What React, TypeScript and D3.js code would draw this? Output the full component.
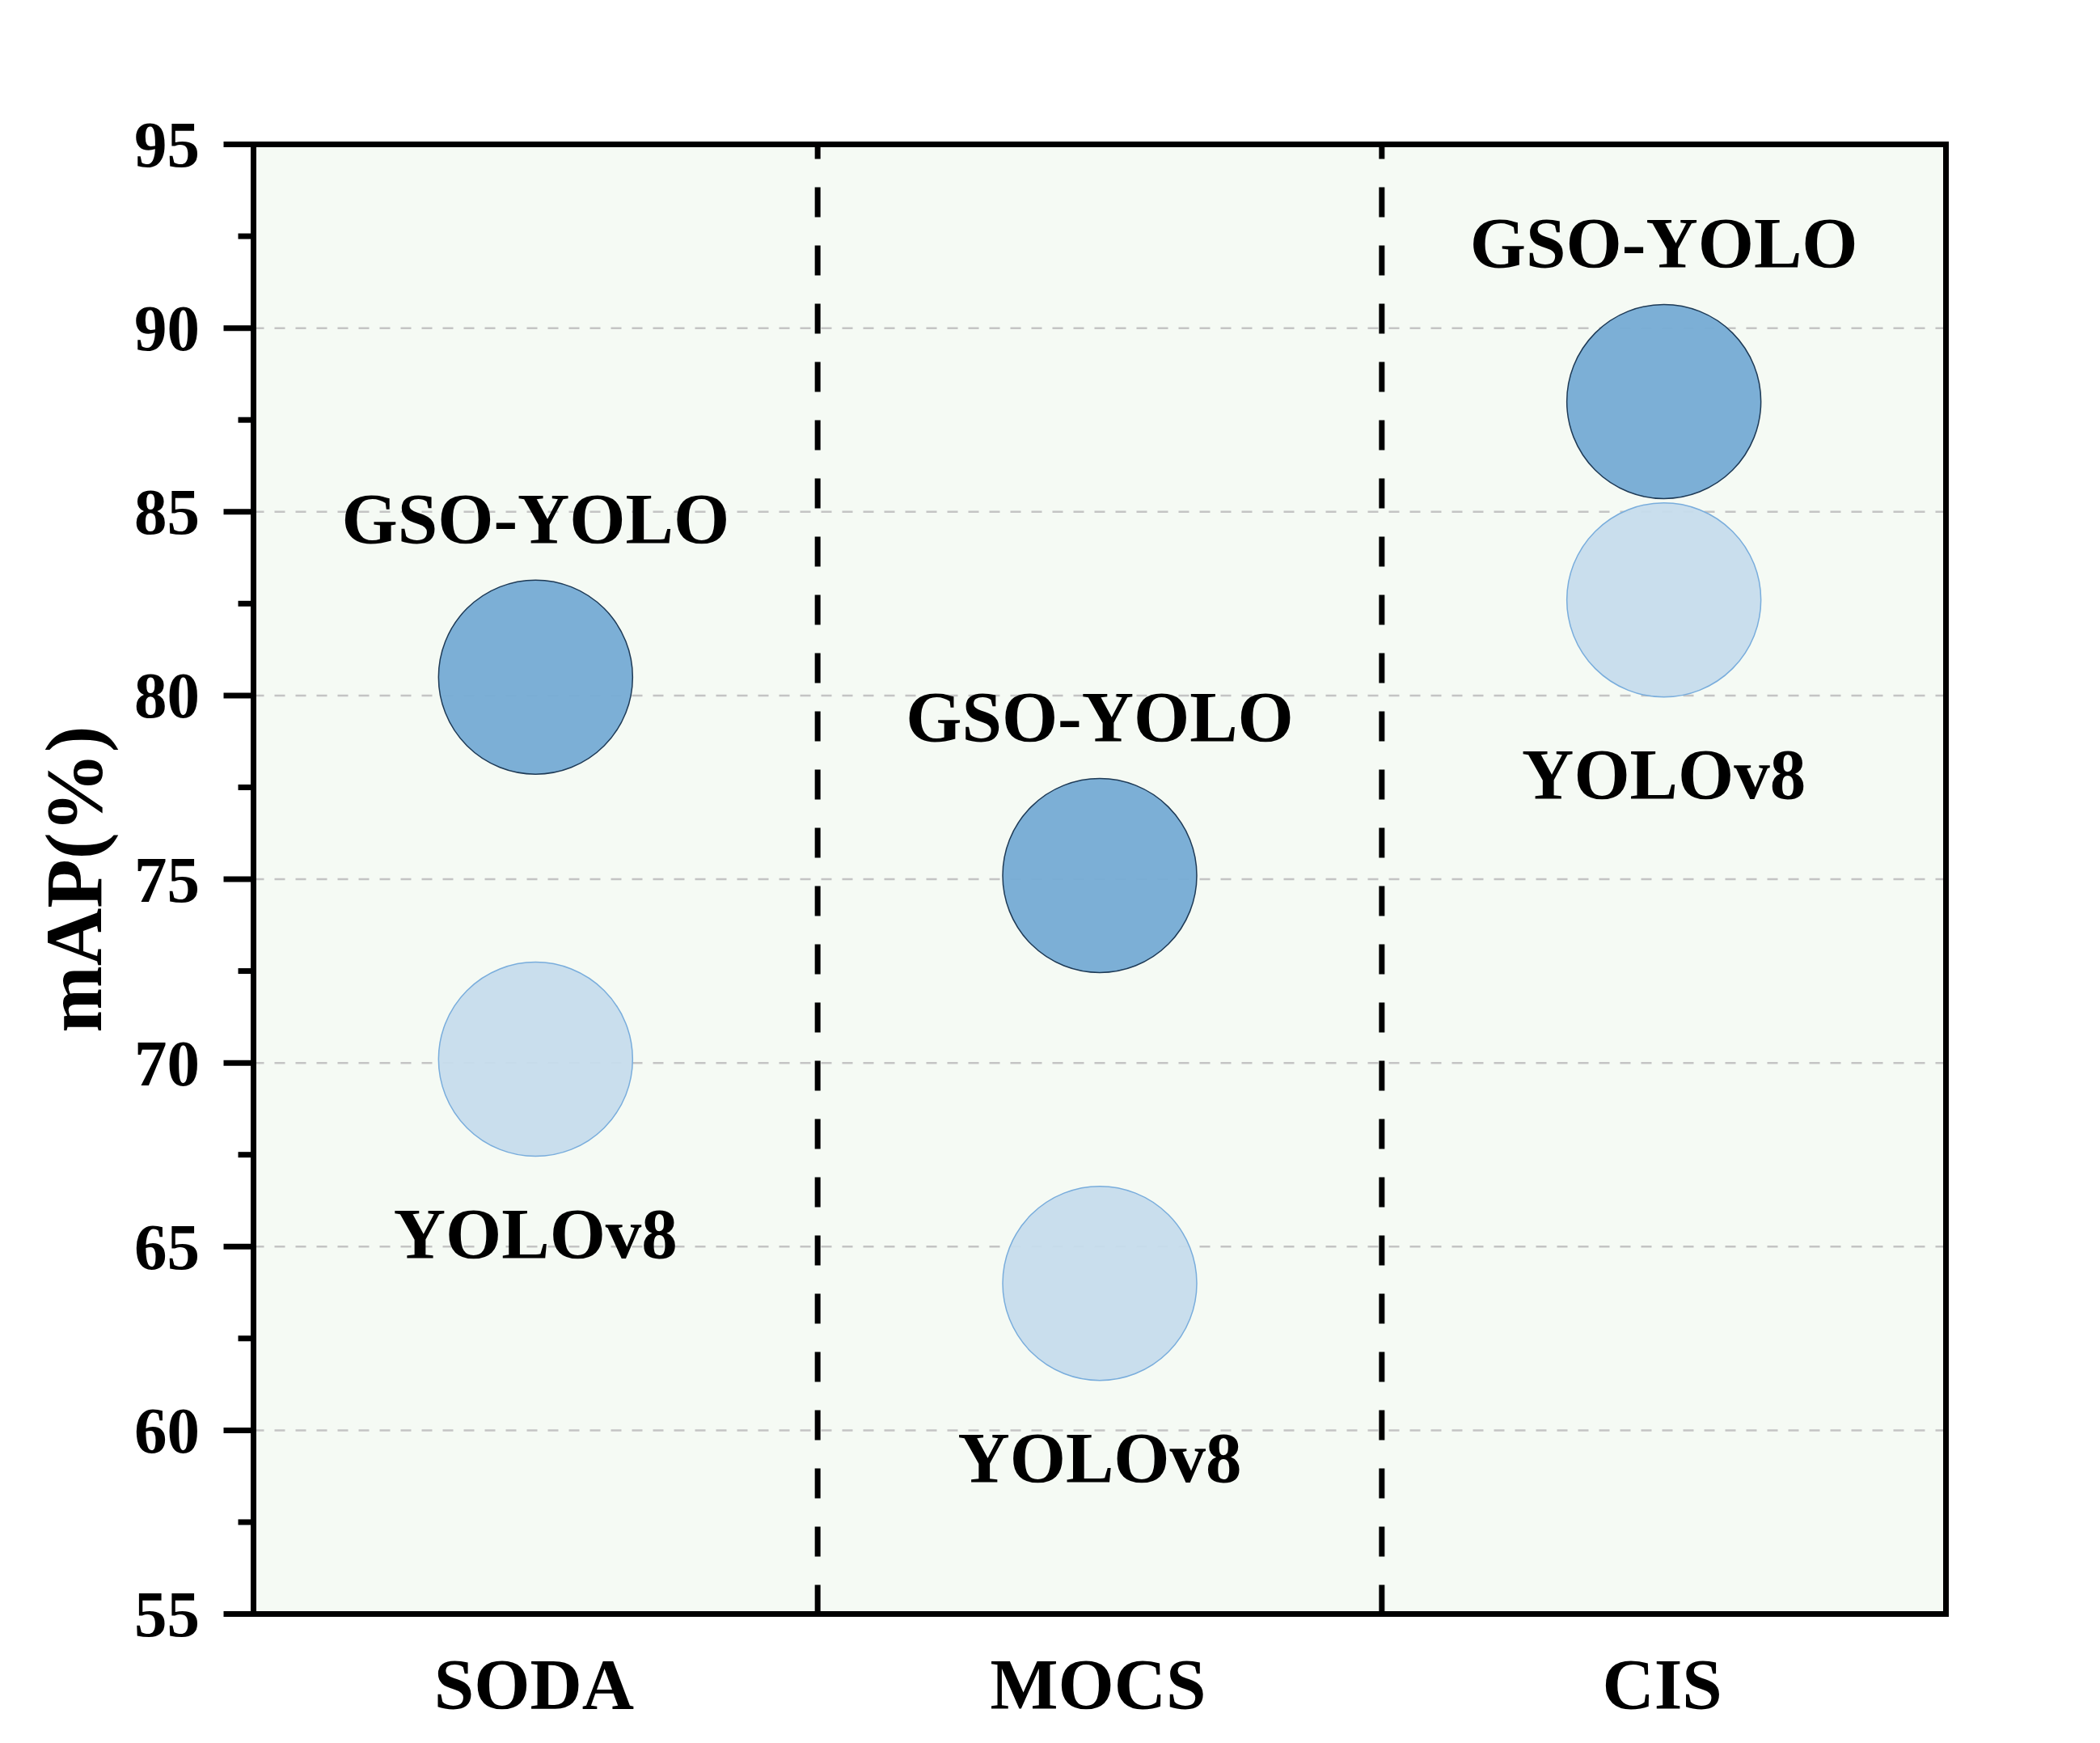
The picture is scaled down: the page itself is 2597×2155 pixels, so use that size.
import React from "react";
import * as d3 from "d3";

const categories = ["SODA", "MOCS", "CIS"];
const gsoValues = [80.5, 75.1, 88.0];
const yoloValues = [70.1, 64.0, 82.6];
const seriesNames = ["GSO-YOLO", "YOLOv8"];
const yTicks = [55, 60, 65, 70, 75, 80, 85, 90, 95];
const yMinorTicks = [57.5, 62.5, 67.5, 72.5, 77.5, 82.5, 87.5, 92.5];

const W = 2597;
const H = 2155;
const left = 313.5;
const right = 2406.5;
const top = 178.5;
const bottom = 1995.5;
const FONT = "'Liberation Serif', 'Times New Roman', serif";

export default function App() {
  const x = d3.scaleBand<string>().domain(categories).range([left, right]).padding(0);
  const y = d3.scaleLinear().domain([55, 95]).range([bottom, top]);
  const r = 120;
  const cx = (c: string) => (x(c) as number) + x.bandwidth() / 2;

  return (
    <svg width={W} height={H} style={{ position: "absolute", left: 0, top: 0 }} xmlns="http://www.w3.org/2000/svg">
      <rect x={0} y={0} width={W} height={H} fill="#ffffff" />
      <rect x={left} y={top} width={right - left} height={bottom - top} fill="#F5FAF4" />
      {/* grid */}
      {yTicks.filter((t) => t !== 55 && t !== 95).map((t) => (
        <line key={"g" + t} x1={left} x2={right} y1={y(t)} y2={y(t)} stroke="#c4c4c4" strokeWidth={2.5} strokeDasharray="13 13" />
      ))}
      {/* separators */}
      {categories.slice(1).map((c) => (
        <line key={"s" + c} x1={x(c) as number} x2={x(c) as number} y1={top} y2={bottom} stroke="#000" strokeWidth={7} strokeDasharray="37 35" strokeDashoffset={19} />
      ))}
      {/* circles */}
      {categories.map((c, i) => (
        <g key={"c" + c}>
          <circle cx={cx(c)} cy={y(yoloValues[i])} r={r} fill="#C6DCEC" fillOpacity={0.95} stroke="#79ADDC" strokeWidth={1.5} />
          <circle cx={cx(c)} cy={y(gsoValues[i])} r={r} fill="#78ACD5" fillOpacity={0.97} stroke="#1E3A56" strokeWidth={1.5} />
          <text x={cx(c)} y={y(gsoValues[i]) - 166} textAnchor="middle" fontFamily={FONT} fontWeight="bold" fontSize={89} fill="#000">{seriesNames[0]}</text>
          <text x={cx(c)} y={y(yoloValues[i]) + 245} textAnchor="middle" fontFamily={FONT} fontWeight="bold" fontSize={89} fill="#000">{seriesNames[1]}</text>
        </g>
      ))}
      {/* frame */}
      <rect x={left} y={top} width={right - left} height={bottom - top} fill="none" stroke="#000" strokeWidth={7} />
      {/* y ticks */}
      {yTicks.map((t) => (
        <g key={"t" + t}>
          <line x1={left - 37} x2={left} y1={y(t)} y2={y(t)} stroke="#000" strokeWidth={7} />
          <text x={247} y={y(t)} dy="0.34em" textAnchor="end" fontFamily={FONT} fontWeight="bold" fontSize={81} fill="#000">{t}</text>
        </g>
      ))}
      {yMinorTicks.map((t) => (
        <line key={"m" + t} x1={left - 19} x2={left} y1={y(t)} y2={y(t)} stroke="#000" strokeWidth={7} />
      ))}
      {/* x labels */}
      {categories.map((c) => (
        <text key={"x" + c} x={cx(c) - 2} y={2112} textAnchor="middle" fontFamily={FONT} fontWeight="bold" fontSize={89} fill="#000">{c}</text>
      ))}
      {/* y title */}
      <text transform={`translate(125, ${(top + bottom) / 2}) rotate(-90)`} textAnchor="middle" fontFamily={FONT} fontWeight="bold" fontSize={99} fill="#000">mAP(%)</text>
    </svg>
  );
}
